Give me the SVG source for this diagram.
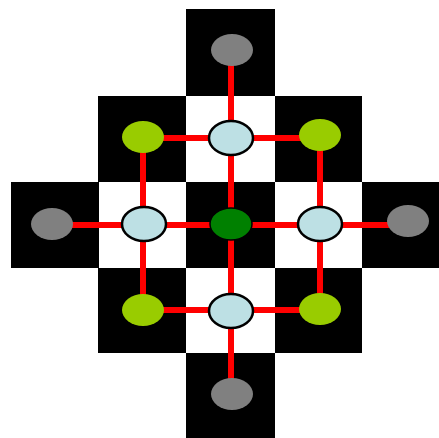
<svg xmlns="http://www.w3.org/2000/svg" width="439" height="438" viewBox="0 0 439 438">
<style>
.b{fill:#000}
.w{fill:#fff}
.e{stroke:#ff0000;stroke-width:6;fill:none}
.gray{fill:#808080}
.yg{fill:#99cc00}
.lb{fill:#bde0e4;stroke:#000;stroke-width:2.5}
.dg{fill:#008000;stroke:#000;stroke-width:1.5}
</style>
<rect width="439" height="438" fill="#fff"/>
<g id="board">
<rect class="b" x="186" y="9" width="89" height="87"/>
<rect class="b" x="98" y="96" width="88" height="86"/>
<rect class="w" x="186" y="96" width="89" height="86"/>
<rect class="b" x="275" y="96" width="87" height="86"/>
<rect class="b" x="11" y="182" width="88" height="86"/>
<rect class="w" x="99" y="182" width="87" height="86"/>
<rect class="b" x="186" y="182" width="89" height="86"/>
<rect class="w" x="275" y="182" width="87" height="86"/>
<rect class="b" x="362" y="182" width="77" height="86"/>
<rect class="b" x="98" y="268" width="88" height="85"/>
<rect class="w" x="186" y="268" width="89" height="85"/>
<rect class="b" x="275" y="268" width="87" height="85"/>
<rect class="b" x="186" y="353" width="89" height="85"/>
</g>
<g id="connectors" class="e">
<line x1="231" y1="50" x2="231" y2="394"/>
<line x1="143" y1="137" x2="143" y2="310"/>
<line x1="320" y1="135" x2="320" y2="309"/>
<line x1="143" y1="138" x2="320" y2="138"/>
<line x1="52" y1="225" x2="408" y2="225"/>
<line x1="143" y1="310" x2="320" y2="310"/>
</g>
<g id="n-top"><ellipse class="gray" cx="232" cy="50" rx="21" ry="16"/></g>
<g id="n-left"><ellipse class="gray" cx="52" cy="224" rx="21" ry="16"/></g>
<g id="n-right"><ellipse class="gray" cx="408" cy="221" rx="21" ry="16"/></g>
<g id="n-bottom"><ellipse class="gray" cx="232" cy="394" rx="21" ry="16"/></g>
<g id="n-tl"><ellipse class="yg" cx="143" cy="137" rx="21" ry="16"/></g>
<g id="n-tr"><ellipse class="yg" cx="320" cy="135" rx="21" ry="16"/></g>
<g id="n-bl"><ellipse class="yg" cx="143" cy="310" rx="21" ry="16"/></g>
<g id="n-br"><ellipse class="yg" cx="320" cy="309" rx="21" ry="16"/></g>
<g id="n-t"><ellipse class="lb" cx="231" cy="138" rx="22" ry="17"/></g>
<g id="n-l"><ellipse class="lb" cx="144" cy="224" rx="22" ry="17"/></g>
<g id="n-r"><ellipse class="lb" cx="320" cy="224" rx="22" ry="17"/></g>
<g id="n-b"><ellipse class="lb" cx="231" cy="311" rx="22" ry="17"/></g>
<g id="n-c"><ellipse class="dg" cx="231" cy="224" rx="21" ry="16"/></g>
</svg>
